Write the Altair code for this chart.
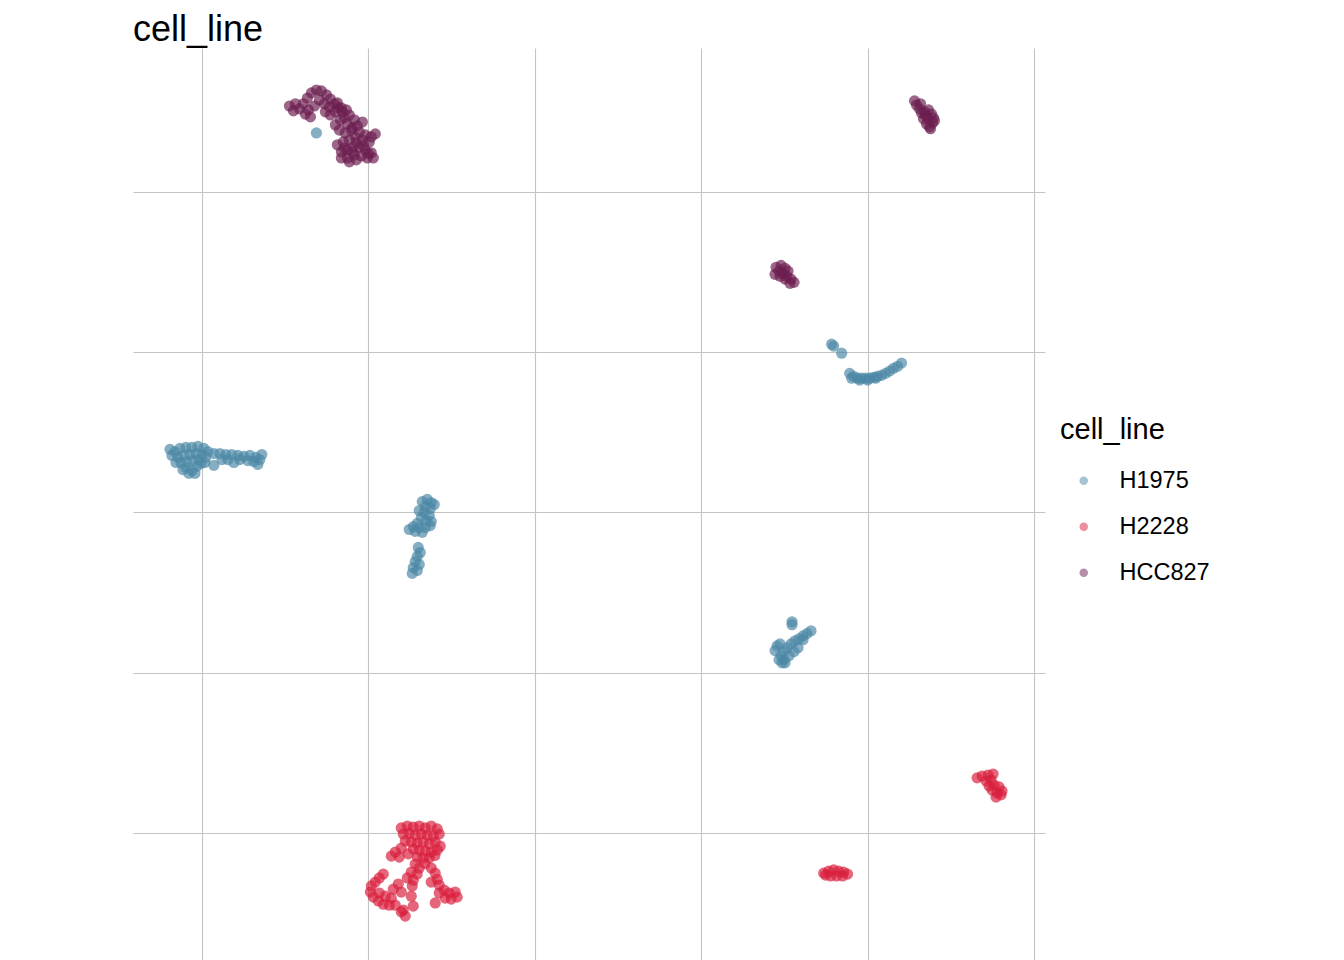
import altair as alt
import pandas as pd

# ---- data (UMAP-like coordinates) ----
# HCC827 clusters
hcc827_a = [(-7.37,12.68),(-7.19,12.75),(-7.07,12.59),(-7.25,12.53),(-6.95,12.75),(-6.83,12.93),
            (-6.71,13.09),(-6.56,13.18),(-6.41,13.15),(-6.26,13.03),(-6.14,12.90),(-6.89,12.43),
            (-6.74,12.34),(-6.80,12.56),(-6.62,12.68),(-6.47,12.87),(-6.32,12.75),(-6.17,12.65),
            (-6.02,12.75),(-5.90,12.62),(-5.78,12.50),(-5.99,12.50),(-6.14,12.40),(-6.29,12.50),
            (-5.72,12.31),(-5.57,12.40),(-5.42,12.25),(-5.63,12.12),(-5.84,12.25),(-5.99,12.09),
            (-5.87,11.93),(-5.69,11.84),(-5.51,11.93),(-5.33,12.06),(-5.18,12.18),(-5.27,11.87),
            (-5.09,11.78),(-4.91,11.72),(-4.79,11.81),(-4.97,11.56),(-5.18,11.62),(-5.39,11.72),
            (-5.57,11.62),(-5.75,11.56),(-5.93,11.47),(-5.81,11.25),(-5.63,11.31),(-5.45,11.40),
            (-5.27,11.40),(-5.09,11.31),(-4.91,11.22),(-5.03,11.06),(-4.85,11.06),(-5.21,11.12),
            (-5.42,11.15),(-5.63,11.06),(-5.81,11.06),(-5.57,10.94),(-5.36,11.00),(-5.72,11.37),
            (-5.93,12.78),(-5.81,12.62),(-5.66,12.56),(-5.48,12.00),(-5.36,11.55),(-5.15,11.45),
            (-5.00,11.20),(-5.48,11.25)]
hcc827_b = [(11.41,12.84),(11.47,12.71),(11.56,12.59),(11.62,12.46),(11.71,12.50),(11.83,12.56),
            (11.92,12.43),(11.98,12.31),(11.95,12.15),(11.86,12.03),(11.77,12.12),(11.68,12.28),
            (11.80,12.31),(11.89,11.97),(11.74,12.40),(11.59,12.75),(12.01,12.22)]
hcc827_c = [(7.25,7.65),(7.40,7.71),(7.52,7.62),(7.34,7.53),(7.22,7.43),(7.46,7.46),(7.61,7.53),
            (7.58,7.37),(7.70,7.28),(7.79,7.18),(7.67,7.15),(7.52,7.28),(7.37,7.37)]

# H1975 clusters
h1975_d = [(9.46,4.34),(9.58,4.25),(9.70,4.19),(9.82,4.19),(9.94,4.19),(10.06,4.19),(10.18,4.22),
           (10.30,4.25),(10.42,4.28),(10.54,4.34),(10.66,4.41),(10.78,4.50),(10.90,4.56),(11.02,4.66),
           (9.52,4.19),(9.76,4.13),(10.00,4.13),(10.24,4.19),(8.92,5.25),(8.98,5.19),(9.22,4.97)]
h1975_e = [(-10.81,1.90),(-10.66,2.00),(-10.48,2.03),(-10.30,2.03),(-10.12,2.06),(-9.94,2.00),
           (-10.72,1.72),(-10.54,1.78),(-10.36,1.81),(-10.18,1.84),(-10.00,1.81),(-10.63,1.56),
           (-10.45,1.59),(-10.27,1.62),(-10.09,1.65),(-10.48,1.40),(-10.30,1.31),(-10.15,1.44),
           (-10.39,1.22),(-10.78,1.56),(-10.90,1.78),(-9.82,1.90),(-9.64,1.84),(-9.46,1.84),
           (-9.28,1.81),(-9.10,1.81),(-8.92,1.78),(-8.74,1.75),(-8.56,1.78),(-8.38,1.72),
           (-8.26,1.65),(-8.44,1.59),(-8.62,1.62),(-9.64,1.47),(-9.04,1.56),(-8.86,1.65),
           (-9.88,1.72),(-10.03,1.53),(-10.57,1.34),(-10.21,1.22),(-9.91,1.56),(-10.96,1.97),
           (-9.40,1.65),(-9.22,1.65),(-8.32,1.50),(-8.20,1.81)]
h1975_f = [(-3.38,0.34),(-3.23,0.41),(-3.11,0.31),(-3.29,0.19),(-3.14,0.12),(-3.47,0.06),(-3.32,0.00),
           (-3.17,-0.09),(-3.41,-0.16),(-3.26,-0.25),(-3.11,-0.28),(-3.53,-0.34),(-3.65,-0.44),
           (-3.47,-0.47),(-3.29,-0.47),(-3.38,-0.62),(-3.59,-0.59),(-3.14,-0.41),(-3.50,-1.09),
           (-3.44,-1.25),(-3.53,-1.37),(-3.59,-1.53),(-3.47,-1.62),(-3.65,-1.72),(-3.53,-1.81),
           (-3.68,-1.90),(-3.02,0.25),(-3.77,-0.53)]
h1975_g = [(7.73,-3.41),(7.73,-3.50),(8.30,-3.69),(8.18,-3.78),(8.06,-3.85),(7.94,-3.94),(7.82,-4.00),
           (7.70,-4.10),(7.58,-4.22),(7.49,-4.34),(7.40,-4.47),(7.34,-4.59),(7.49,-4.59),(7.64,-4.47),
           (7.79,-4.34),(7.91,-4.22),(7.28,-4.16),(7.22,-4.31),(7.37,-4.10),(7.52,-4.69),(7.43,-4.69),
           (8.06,-3.97)]
h1975_stray = [(-6.56,11.84)]

# H2228 clusters
h2228_h = [(-4.01,-9.84),(-3.83,-9.78),(-3.65,-9.81),(-3.47,-9.78),(-3.29,-9.84),(-3.11,-9.78),
           (-2.93,-9.87),(-3.95,-10.03),(-3.77,-10.00),(-3.59,-10.06),(-3.41,-10.03),(-3.23,-10.06),
           (-3.05,-10.09),(-2.87,-10.03),(-3.89,-10.25),(-3.71,-10.28),(-3.53,-10.31),(-3.35,-10.28),
           (-3.17,-10.34),(-2.99,-10.28),(-2.84,-10.41),(-3.65,-10.50),(-3.47,-10.53),(-3.29,-10.56),
           (-3.11,-10.59),(-2.93,-10.53),(-3.53,-10.75),(-3.35,-10.78),(-3.17,-10.78),(-4.01,-10.47),
           (-4.19,-10.59),(-4.07,-10.75),(-4.31,-10.72),(-3.59,-10.97),(-3.47,-11.09),(-3.71,-11.22),
           (-3.53,-11.28),(-3.83,-11.40),(-3.65,-11.47),(-4.55,-11.28),(-4.67,-11.40),(-4.79,-11.53),
           (-4.91,-11.65),(-4.94,-11.84),(-4.85,-12.00),(-4.70,-12.12),(-4.55,-12.22),(-4.37,-12.25),
           (-4.19,-12.25),(-4.31,-12.03),(-4.49,-11.97),(-4.67,-11.87),(-4.25,-11.75),(-4.10,-11.59),
           (-4.01,-11.84),(-4.01,-12.46),(-3.89,-12.59),(-3.95,-12.40),(-3.68,-11.65),(-3.71,-11.97),
           (-3.65,-12.28),(-3.11,-11.09),(-2.99,-11.25),(-2.93,-11.44),(-2.87,-11.62),(-3.11,-11.53),
           (-2.72,-11.78),(-2.57,-11.87),(-2.39,-11.84),(-2.51,-12.06),(-2.69,-12.03),(-2.87,-11.87),
           (-2.99,-12.18),(-2.33,-12.00),(-3.30,-10.95),(-3.00,-10.70),(-3.80,-10.65)]
h2228_i = [(13.29,-8.28),(13.44,-8.22),(13.62,-8.19),(13.77,-8.16),(13.71,-8.35),(13.56,-8.38),
           (13.65,-8.53),(13.80,-8.50),(13.95,-8.56),(14.04,-8.69),(13.89,-8.75),(13.74,-8.66),
           (13.86,-8.88),(14.01,-8.81)]
h2228_j = [(8.68,-11.25),(8.83,-11.19),(8.98,-11.15),(9.13,-11.19),(9.28,-11.22),(9.40,-11.28),
           (9.25,-11.34),(9.07,-11.34),(8.89,-11.34),(8.74,-11.31)]

cell_lines = ["H1975", "H2228", "HCC827"]
colors = ["#4B87A5", "#D91E3C", "#6B1E50"]
grid_x = [-10, -5, 0, 5, 10, 15]
grid_y = [-10, -5, 0, 5, 10]

groups = [
    ("HCC827", hcc827_a), ("HCC827", hcc827_b), ("HCC827", hcc827_c),
    ("H1975", h1975_d), ("H1975", h1975_e), ("H1975", h1975_f), ("H1975", h1975_g),
    ("H2228", h2228_h), ("H2228", h2228_i), ("H2228", h2228_j),
    ("H1975", h1975_stray),
]
rows = []
for name, pts in groups:
    for x, y in pts:
        rows.append({"UMAP_1": x, "UMAP_2": y, "cell_line": name})
df = pd.DataFrame(rows)

FONT = "Liberation Sans"

chart = alt.Chart(df).mark_circle(size=125, opacity=0.68).encode(
    x=alt.X("UMAP_1:Q",
            scale=alt.Scale(domain=[-12.07, 15.33], nice=False, zero=False),
            axis=alt.Axis(values=grid_x, labels=False, ticks=False, domain=False, title=None,
                          grid=True, gridColor="#c4c4c4", gridWidth=1.1)),
    y=alt.Y("UMAP_2:Q",
            scale=alt.Scale(domain=[-13.96, 14.49], nice=False, zero=False),
            axis=alt.Axis(values=grid_y, labels=False, ticks=False, domain=False, title=None,
                          grid=True, gridColor="#c4c4c4", gridWidth=1.1)),
    color=alt.Color("cell_line:N",
                    scale=alt.Scale(domain=cell_lines, range=colors),
                    legend=alt.Legend(title="cell_line", orient="none", legendX=927, legendY=368,
                                      titleFontSize=29, titleFont=FONT, titleFontWeight="normal",
                                      titleColor="#000000", titlePadding=24,
                                      labelFontSize=23.5, labelFont=FONT, labelColor="#000000",
                                      labelOffset=24, symbolOffset=12, symbolSize=72,
                                      symbolType="circle", symbolOpacity=0.5, rowPadding=21,
                                      symbolStrokeWidth=0)),
).properties(
    width=912, height=912,
    title=alt.TitleParams("cell_line", anchor="start", fontSize=36, font=FONT,
                          fontWeight="normal", color="#000000", baseline="alphabetic",
                          offset=9, dy=38),
    padding={"left": 125, "top": 40, "right": 220, "bottom": 0},
    autosize=alt.AutoSizeParams(type="none"),
).configure_view(stroke=None)

chart.save("out.html", embed_options={"renderer": "svg", "actions": False})
